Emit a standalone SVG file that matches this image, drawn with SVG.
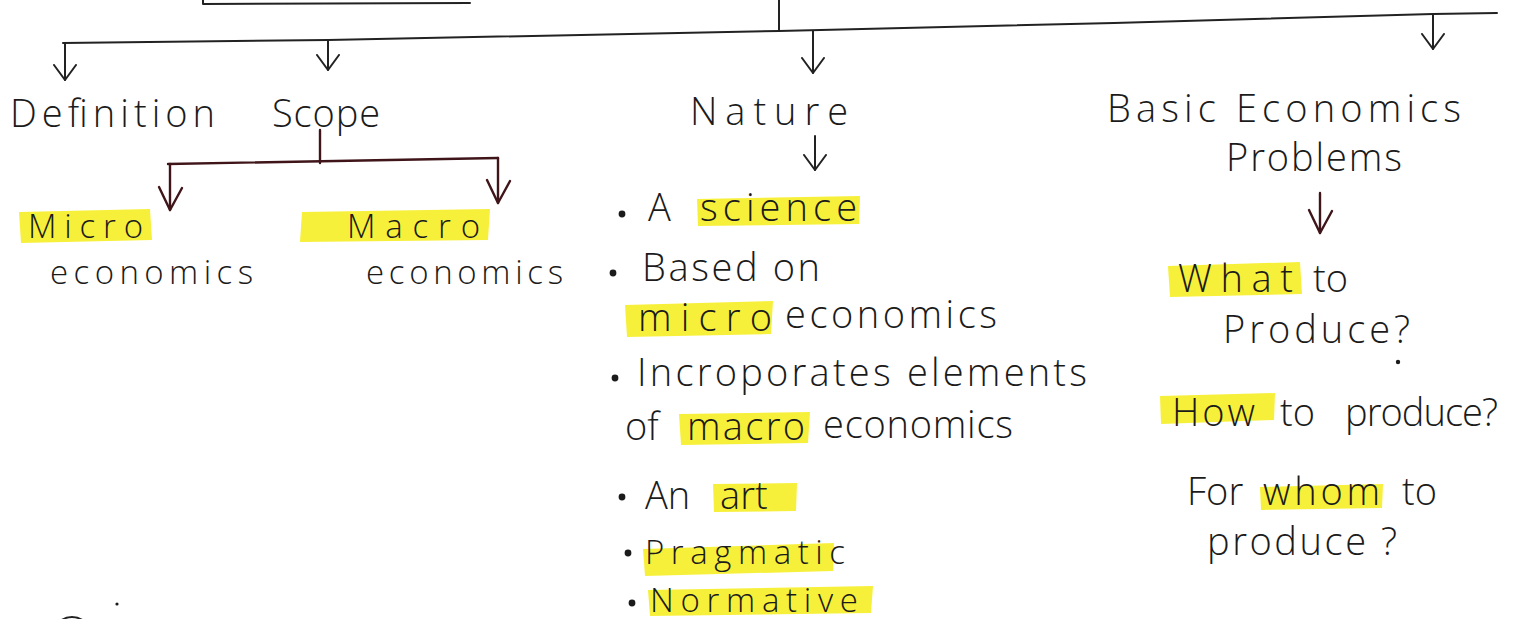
<svg xmlns="http://www.w3.org/2000/svg" width="1514" height="619" viewBox="0 0 1514 619">
<defs>
<style>
.t{font-family:"Open Sans","Liberation Sans","DejaVu Sans",sans-serif;font-weight:300;font-size:38px;fill:#1b1b1b;}
.s{font-size:33px;}
.ln{stroke:#222;stroke-width:2;fill:none;stroke-linecap:round;stroke-linejoin:round;}
.mr{stroke:#3f1519;stroke-width:2.4;fill:none;stroke-linecap:round;stroke-linejoin:round;}
.hl{fill:#f7f03a;}
.b{fill:#1b1b1b;}
</style>
<marker id="ah" viewBox="-16 -14 20 28" refX="0" refY="0" markerWidth="20" markerHeight="28" markerUnits="userSpaceOnUse" orient="auto">
<path d="M-15,-11 L0,0 L-15,11" fill="none" stroke="#222" stroke-width="2" stroke-linecap="round" stroke-linejoin="round"/>
</marker>
<marker id="ahm" viewBox="-26 -14 28 28" refX="0" refY="0" markerWidth="28" markerHeight="28" markerUnits="userSpaceOnUse" orient="auto">
<path d="M-22,-12 L0,0 L-23,11" fill="none" stroke="#3f1519" stroke-width="2.4" stroke-linecap="round" stroke-linejoin="round"/>
</marker>
</defs>
<rect width="1514" height="619" fill="#ffffff"/>

<g id="connectors">
<path class="ln" d="M203,0 L203,4 L470,3"/>
<path class="ln" d="M779,0 L779,31"/>
<path class="ln" d="M63,43 L328,40 L779,31 L1114,23 L1433,14 L1497,13"/>
<path class="ln" d="M65,43 L65,80" marker-end="url(#ah)"/>
<path class="ln" d="M328,40 L328,70" marker-end="url(#ah)"/>
<path class="ln" d="M813,31 L813,73" marker-end="url(#ah)"/>
<path class="ln" d="M1433,14 L1433,49" marker-end="url(#ah)"/>
<path class="ln" d="M815,136 L815,170" marker-end="url(#ah)"/>
<path class="mr" d="M320,130 L320,163"/>
<path class="mr" d="M168,164 L498,158"/>
<path class="mr" d="M170,164 L170,210" marker-end="url(#ahm)"/>
<path class="mr" d="M498,158 L498,203" marker-end="url(#ahm)"/>
<path class="mr" d="M1320,193 L1320,233" marker-end="url(#ahm)"/>
</g>

<g id="definition">
<text class="t" x="10" y="127" textLength="205" lengthAdjust="spacing">Definition</text>
</g>

<g id="scope">
<text class="t" x="272" y="127" textLength="108" lengthAdjust="spacing">Scope</text>
</g>

<g id="micro">
<path class="hl" d="M19,212 L150,209 L152,240 L21,243 Z"/>
<text class="t s" x="28" y="238" textLength="115" lengthAdjust="spacing">Micro</text>
<text class="t s" x="50" y="284" textLength="203" lengthAdjust="spacing">economics</text>
</g>

<g id="macro">
<path class="hl" d="M302,212 L490,209 L488,240 L300,242 Z"/>
<text class="t s" x="347" y="238" textLength="133" lengthAdjust="spacing">Macro</text>
<text class="t s" x="366" y="284" textLength="197" lengthAdjust="spacing">economics</text>
</g>

<g id="nature">
<text class="t" x="690" y="125" textLength="158" lengthAdjust="spacing">Nature</text>
</g>

<g id="nature-points">
<path class="hl" d="M697,199 L860,196 L859,224 L698,226 Z"/>
<path class="hl" d="M625,305 L773,301 L771,334 L627,337 Z"/>
<path class="hl" d="M679,414 L810,412 L808,443 L681,445 Z"/>
<path class="hl" d="M713,484 L797,483 L796,511 L714,512 Z"/>
<path class="hl" d="M643,549 L834,543 L833,571 L645,576 Z"/>
<path class="hl" d="M648,590 L873,586 L871,613 L650,616 Z"/>
<circle class="b" cx="622" cy="214" r="3.4"/>
<text class="t" x="648" y="221">A</text>
<text class="t" x="700" y="221" textLength="157" lengthAdjust="spacing">science</text>
<circle class="b" cx="613" cy="273" r="3.4"/>
<text class="t" x="642" y="281" textLength="178" lengthAdjust="spacing">Based on</text>
<text class="t" x="638" y="331" textLength="134" lengthAdjust="spacing">micro</text>
<text class="t" x="785" y="328" textLength="212" lengthAdjust="spacing">economics</text>
<circle class="b" cx="615" cy="378" r="3.4"/>
<text class="t" x="637" y="386" textLength="450" lengthAdjust="spacing">Incroporates elements</text>
<text class="t" x="625" y="440">of</text>
<text class="t" x="687" y="440" textLength="118" lengthAdjust="spacing">macro</text>
<text class="t" x="823" y="438" textLength="190" lengthAdjust="spacing">economics</text>
<circle class="b" cx="622" cy="497" r="3.4"/>
<text class="t" x="645" y="509">An</text>
<text class="t" x="720" y="509">art</text>
<circle class="b" cx="628" cy="553" r="3.4"/>
<text class="t s" x="645" y="564" textLength="200" lengthAdjust="spacing">Pragmatic</text>
<circle class="b" cx="632" cy="603" r="3.4"/>
<text class="t s" x="650" y="612" textLength="208" lengthAdjust="spacing">Normative</text>
</g>

<g id="basic-problems">
<text class="t" x="1107" y="122" textLength="354" lengthAdjust="spacing">Basic Economics</text>
<text class="t" x="1226" y="171" textLength="176" lengthAdjust="spacing">Problems</text>
</g>

<g id="problems-list">
<path class="hl" d="M1168,266 L1300,262 L1302,294 L1170,297 Z"/>
<path class="hl" d="M1160,396 L1275,393 L1274,420 L1161,424 Z"/>
<path class="hl" d="M1260,487 L1383,484 L1382,508 L1261,510 Z"/>
<text class="t" x="1178" y="292" textLength="115" lengthAdjust="spacing">What</text>
<text class="t" x="1313" y="292">to</text>
<text class="t" x="1223" y="343" textLength="187" lengthAdjust="spacing">Produce?</text>
<circle class="b" cx="1398" cy="362" r="2.2"/>
<text class="t" x="1172" y="426" textLength="83" lengthAdjust="spacing">How</text>
<text class="t" x="1280" y="426">to</text>
<text class="t" x="1345" y="426" textLength="153" lengthAdjust="spacing">produce?</text>
<text class="t" x="1187" y="505">For</text>
<text class="t" x="1263" y="505" textLength="117" lengthAdjust="spacing">whom</text>
<text class="t" x="1402" y="505">to</text>
<text class="t" x="1207" y="555" textLength="190" lengthAdjust="spacing">produce ?</text>
</g>

<g id="corner-mark">
<circle cx="72" cy="636" r="19" fill="none" stroke="#222" stroke-width="2"/>
<circle class="b" cx="117" cy="604" r="1.6"/>
</g>
</svg>
